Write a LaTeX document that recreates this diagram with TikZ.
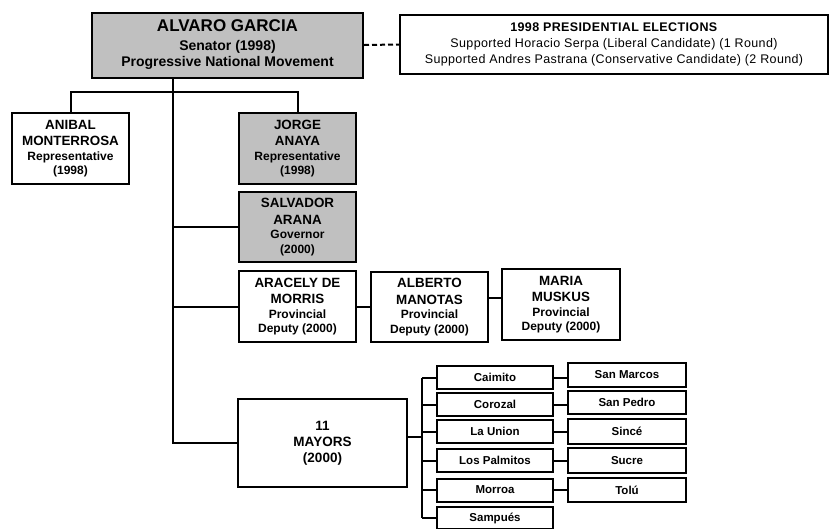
\documentclass[tikz,border=0pt]{standalone}
\usepackage{fontspec}
\setmainfont{Liberation Sans}
\newfontfamily\elecfont{Liberation Sans}[LetterSpace=3]
\definecolor{boxgray}{RGB}{192,192,192}
\newcommand\NM[1]{{\fontsize{13.4}{15}\selectfont #1}}
\newcommand\RL[1]{{\fontsize{12}{13}\selectfont #1}}
\tikzset{
  box/.style={draw, line width=2pt, fill=white, align=center, inner sep=0pt,
              font=\bfseries\fontsize{12}{14.5}\selectfont},
  greybox/.style={box, fill=boxgray},
  muni/.style={box, font=\bfseries\fontsize{11.5}{12}\selectfont, minimum height=23pt},
  conn/.style={line width=2pt},
}
\begin{document}
\begin{tikzpicture}[x=1pt,y=-1pt]
\useasboundingbox (0,0) rectangle (829,528);
% main
\node[greybox, minimum width=271pt, minimum height=65pt,
      font=\bfseries\fontsize{14}{16.5}\selectfont] (main) at (227.5,45)
  {{\fontsize{17}{18}\selectfont ALVARO GARCIA}\\[2pt]Senator (1998)\\Progressive National Movement};
\node[box, minimum width=428pt, minimum height=59pt, font=\elecfont\fontsize{12.5}{16}\selectfont] (elec) at (614,44.5)
  {\textbf{1998 PRESIDENTIAL ELECTIONS}\\Supported Horacio Serpa (Liberal Candidate) (1 Round)\\Supported Andres Pastrana (Conservative Candidate) (2 Round)};
% second level
\node[box, minimum width=117pt, minimum height=71pt] (anibal) at (70.5,148.5)
  {\NM{ANIBAL}\\[2pt]\NM{MONTERROSA}\\\RL{Representative}\\\RL{(1998)}};
\node[greybox, minimum width=117pt, minimum height=71pt] (jorge) at (297.5,148.5)
  {\NM{JORGE}\\[2pt]\NM{ANAYA}\\\RL{Representative}\\\RL{(1998)}};
\node[greybox, minimum width=117pt, minimum height=70pt] (salvador) at (297.5,227)
  {\NM{SALVADOR}\\[2pt]\NM{ARANA}\\\RL{Governor}\\\RL{(2000)}};
\node[box, minimum width=117pt, minimum height=71pt] (aracely) at (297.5,306.5)
  {\NM{ARACELY DE}\\[2pt]\NM{MORRIS}\\\RL{Provincial}\\\RL{Deputy (2000)}};
\node[box, minimum width=117pt, minimum height=70pt] (alberto) at (429.5,307)
  {\NM{ALBERTO}\\[2pt]\NM{MANOTAS}\\\RL{Provincial}\\\RL{Deputy (2000)}};
\node[box, minimum width=118pt, minimum height=71pt] (maria) at (561,304.5)
  {\NM{MARIA}\\[2pt]\NM{MUSKUS}\\\RL{Provincial}\\\RL{Deputy (2000)}};
\node[box, minimum width=169pt, minimum height=88pt, font=\bfseries\fontsize{13.5}{16}\selectfont] (mayors) at (322.5,443)
  {11\\MAYORS\\(2000)};
% municipalities
\node[muni, minimum width=116pt] (caimito) at (495,377.5) {Caimito};
\node[muni, minimum width=116pt] (corozal) at (495,404.5) {Corozal};
\node[muni, minimum width=116pt] (launion) at (495,431.5) {La Union};
\node[muni, minimum width=116pt] (palmitos) at (495,460.5) {Los Palmitos};
\node[muni, minimum width=116pt] (morroa) at (495,490) {Morroa};
\node[muni, minimum width=116pt, minimum height=22pt] (sampues) at (495,518) {Sampués};
\node[muni, minimum width=118pt, minimum height=24pt] (sanmarcos) at (627,375) {San Marcos};
\node[muni, minimum width=118pt] (sanpedro) at (627,402.5) {San Pedro};
\node[muni, minimum width=118pt, minimum height=25pt] (since) at (627,431.5) {Sincé};
\node[muni, minimum width=118pt, minimum height=25pt] (sucre) at (627,460.5) {Sucre};
\node[muni, minimum width=118pt, minimum height=24pt] (tolu) at (627,490) {Tolú};
% connectors
\coordinate (trunk) at (173,77.5);
\coordinate (bus) at (422,437);
\draw[conn, dash pattern=on 5pt off 3pt] (main.east) -- (elec.west);
\draw[conn] (anibal.north) -- ++(0,-20) -| (jorge.north);
\draw[conn] (trunk) |- (mayors.west);
\draw[conn] (trunk |- salvador.west) -- (salvador.west);
\draw[conn] (trunk |- aracely.west) -- (aracely.west);
\draw[conn] (aracely.east) -- (aracely.east -| alberto.west);
\draw[conn] ([yshift=9pt]alberto.east) -- ([yshift=9pt]alberto.east -| maria.west);
\draw[conn] ([yshift=6pt]mayors.east) -- (bus);
\draw[conn] (bus |- caimito.west) -- (bus |- sampues.west);
\foreach \m in {caimito,corozal,launion,palmitos,morroa,sampues}
  \draw[conn] (bus |- \m.west) -- (\m.west);
\draw[conn] (caimito.east) -- (caimito.east -| sanmarcos.west);
\draw[conn] (corozal.east) -- (corozal.east -| sanpedro.west);
\draw[conn] (launion.east) -- (launion.east -| since.west);
\draw[conn] (palmitos.east) -- (palmitos.east -| sucre.west);
\draw[conn] (morroa.east) -- (morroa.east -| tolu.west);
\end{tikzpicture}
\end{document}
